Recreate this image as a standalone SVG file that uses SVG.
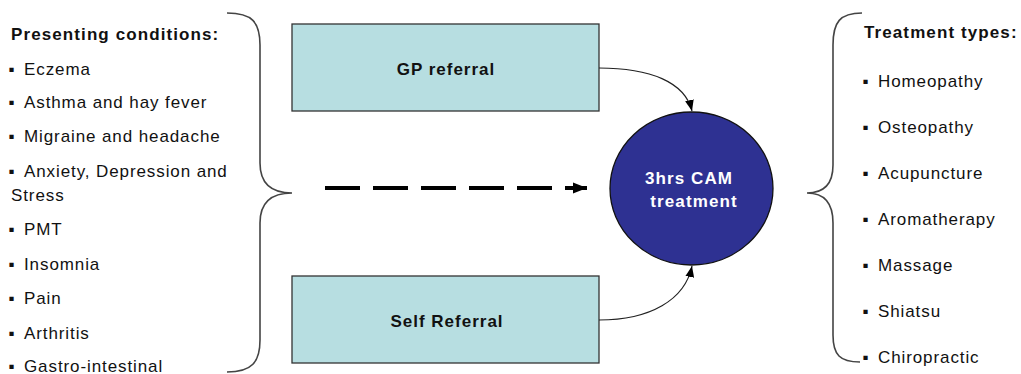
<svg xmlns="http://www.w3.org/2000/svg" width="1021" height="374" viewBox="0 0 1021 374">
<style>
.t{font-family:"Liberation Sans",Arial,sans-serif;font-size:17px;fill:#111;letter-spacing:0.9px}
.h{font-family:"Liberation Sans",Arial,sans-serif;font-size:17px;font-weight:bold;fill:#111;letter-spacing:1.1px}
.box{fill:#B7DEE1;stroke:#333;stroke-width:1.3}
.lbl{font-family:"Liberation Sans",Arial,sans-serif;font-size:17px;font-weight:bold;fill:#111;letter-spacing:1px;text-anchor:middle}
.wl{font-family:"Liberation Sans",Arial,sans-serif;font-size:17px;font-weight:bold;fill:#fff;letter-spacing:1.1px;text-anchor:middle}
.brace{fill:none;stroke:#444;stroke-width:1.6}
.con{fill:none;stroke:#222;stroke-width:1.2}
</style>
<defs>
<marker id="ah" viewBox="0 0 10 10" refX="10" refY="5" markerWidth="11" markerHeight="11" markerUnits="userSpaceOnUse" orient="auto">
<path d="M0,1 L10,5 L0,9 z" fill="#000"/>
</marker>
<marker id="ahb" viewBox="0 0 10 10" refX="10" refY="5" markerWidth="14" markerHeight="14" markerUnits="userSpaceOnUse" orient="auto">
<path d="M0,1 L10,5 L0,9 z" fill="#000"/>
</marker>
</defs>
<g id="left-list">
<path class="brace" d="M227,13 C252,13 260,22 260,45 L260,163 C260,183 270,193 292,193 C270,193 260,203 260,223 L260,340 C260,362 252,372 227,372"/>
<text class="h" x="11" y="40">Presenting conditions:</text>
<text class="t" y="75"><tspan x="8.5">▪</tspan><tspan x="24">Eczema</tspan></text>
<text class="t" y="108"><tspan x="8.5">▪</tspan><tspan x="24">Asthma and hay fever</tspan></text>
<text class="t" y="142"><tspan x="8.5">▪</tspan><tspan x="24">Migraine and headache</tspan></text>
<text class="t" y="177"><tspan x="8.5">▪</tspan><tspan x="24">Anxiety, Depression and</tspan></text>
<text class="t" x="11" y="201">Stress</text>
<text class="t" y="235"><tspan x="8.5">▪</tspan><tspan x="24">PMT</tspan></text>
<text class="t" y="270"><tspan x="8.5">▪</tspan><tspan x="24">Insomnia</tspan></text>
<text class="t" y="304"><tspan x="8.5">▪</tspan><tspan x="24">Pain</tspan></text>
<text class="t" y="339"><tspan x="8.5">▪</tspan><tspan x="24">Arthritis</tspan></text>
<text class="t" y="372"><tspan x="8.5">▪</tspan><tspan x="24">Gastro-intestinal</tspan></text>
</g>
<g id="gp-referral">
<rect class="box" x="292" y="24" width="307" height="87"/>
<text class="lbl" x="446" y="75">GP referral</text>
</g>
<g id="self-referral">
<rect class="box" x="292" y="276" width="307" height="87"/>
<text class="lbl" x="447" y="327">Self Referral</text>
</g>
<g id="cam-treatment">
<ellipse cx="691.5" cy="188.5" rx="81.5" ry="76.5" fill="#2E3192" stroke="#111" stroke-width="1.3"/>
<text class="wl" x="689" y="184">3hrs CAM</text>
<text class="wl" x="694" y="207">treatment</text>
</g>
<g id="right-list">
<path class="brace" d="M862,13 C840,13 833,22 833,45 L833,165 C833,183 825,193 807,193 C825,193 833,203 833,223 L833,335 C833,355 840,362 860,362"/>
<text class="h" x="864" y="38">Treatment types:</text>
<text class="t" y="87"><tspan x="862.5">▪</tspan><tspan x="878">Homeopathy</tspan></text>
<text class="t" y="133"><tspan x="862.5">▪</tspan><tspan x="878">Osteopathy</tspan></text>
<text class="t" y="179"><tspan x="862.5">▪</tspan><tspan x="878">Acupuncture</tspan></text>
<text class="t" y="225"><tspan x="862.5">▪</tspan><tspan x="878">Aromatherapy</tspan></text>
<text class="t" y="271"><tspan x="862.5">▪</tspan><tspan x="878">Massage</tspan></text>
<text class="t" y="317"><tspan x="862.5">▪</tspan><tspan x="878">Shiatsu</tspan></text>
<text class="t" y="363"><tspan x="862.5">▪</tspan><tspan x="878">Chiropractic</tspan></text>
</g>
<g id="connectors">
<path class="con" d="M599,68 C650,68 685,82 692,111" marker-end="url(#ah)"/>
<path class="con" d="M599,320 C650,320 685,300 692,266" marker-end="url(#ah)"/>
<line x1="325" y1="188" x2="575" y2="188" stroke="#000" stroke-width="4" stroke-dasharray="35,13"/>
<line x1="570" y1="188" x2="587" y2="188" stroke="#000" stroke-width="4" marker-end="url(#ahb)"/>
</g>
</svg>
